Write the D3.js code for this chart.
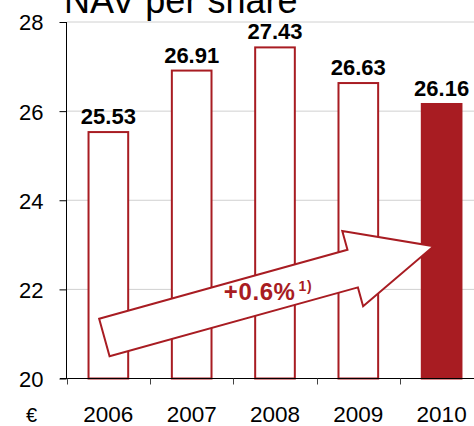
<!DOCTYPE html>
<html>
<head>
<meta charset="utf-8">
<script src="https://cdn.jsdelivr.net/npm/d3@7"></script>
<style>
  body { margin: 0; background: #fff; }
  svg { display: block; font-family: "Liberation Sans", Arial, sans-serif; }
</style>
</head>
<body>
<div id="chart"></div>
<script>
'use strict';

// Chart data
const years = ["2006", "2007", "2008", "2009", "2010"];
const navValues = [25.53, 26.91, 27.43, 26.63, 26.16];
const yTicks = [20, 22, 24, 26, 28];
const growthLabel = "+0.6%";
const growthNote = "1)";

const width = 474;
const height = 426;
const red = "#a81c22";

const svg = d3.select("#chart").append("svg")
    .attr("width", width)
    .attr("height", height);

// Scales: band axis runs past the right edge, like the original slide
const x = d3.scaleBand()
    .domain(years)
    .range([66.7, 483.3])
    .paddingInner(0.5)
    .paddingOuter(0.25);

const y = d3.scaleLinear()
    .domain([20, 28])
    .range([378.5, 22]);

// Title (cut off at the top)
svg.append("text")
    .attr("x", 64)
    .attr("y", 13)
    .attr("font-size", 36)
    .attr("fill", "#000")
    .text("NAV per share");

// Gridlines
svg.append("g")
  .selectAll("line")
  .data(yTicks.filter(d => d > 20))
  .join("line")
    .attr("x1", 67)
    .attr("x2", width)
    .attr("y1", d => y(d))
    .attr("y2", d => y(d))
    .attr("stroke", "#d0d0d0")
    .attr("stroke-width", 1);

// Y axis
const yAxis = svg.append("g")
    .attr("transform", "translate(66.5,0)")
    .call(d3.axisLeft(y).tickValues(yTicks).tickSize(7).tickPadding(16));
yAxis.select(".domain").attr("stroke", "#000").attr("d", `M0,${y(28)}V${y(20)}`);
yAxis.selectAll(".tick line").attr("stroke", "#000");
yAxis.selectAll(".tick text")
    .attr("font-size", 22)
    .attr("dy", "0.36em")
    .attr("font-family", "Liberation Sans, Arial, sans-serif")
    .attr("fill", "#000");

// Bars
svg.append("g")
  .selectAll("rect")
  .data(years)
  .join("rect")
    .attr("x", d => x(d) + 1)
    .attr("width", x.bandwidth() - 2)
    .attr("y", (d, i) => y(navValues[i]))
    .attr("height", (d, i) => y(20) - y(navValues[i]))
    .attr("fill", (d, i) => i === years.length - 1 ? red : "#fff")
    .attr("stroke", red)
    .attr("stroke-width", 2);

// X axis line
svg.append("line")
    .attr("x1", 60)
    .attr("x2", width)
    .attr("y1", y(20))
    .attr("y2", y(20))
    .attr("stroke", "#000")
    .attr("stroke-width", 1.2);

// X ticks at band boundaries
svg.append("g")
  .selectAll("line")
  .data(years)
  .join("line")
    .attr("x1", d => Math.round(x(d) - x.step() * x.paddingOuter()) + 0.5)
    .attr("x2", d => Math.round(x(d) - x.step() * x.paddingOuter()) + 0.5)
    .attr("y1", y(20))
    .attr("y2", y(20) + 6)
    .attr("stroke", "#444");

// Year labels
svg.append("g")
  .selectAll("text")
  .data(years)
  .join("text")
    .attr("x", d => x(d) + x.bandwidth() / 2)
    .attr("y", 422)
    .attr("text-anchor", "middle")
    .attr("font-size", 22.5)
    .text(d => d);

svg.append("text")
    .attr("x", 26)
    .attr("y", 422)
    .attr("font-size", 20)
    .text("€");

// Value labels
svg.append("g")
  .selectAll("text")
  .data(years)
  .join("text")
    .attr("x", d => x(d) + x.bandwidth() / 2)
    .attr("y", (d, i) => y(navValues[i]) - 8)
    .attr("text-anchor", "middle")
    .attr("font-size", 22)
    .attr("font-weight", "bold")
    .text((d, i) => navValues[i].toFixed(2));

// Growth arrow, anchored to the first and last bars
const tail = [x("2006") + x.bandwidth() / 2 - 4, y(20.92)];
const tip = [x("2010") + x.bandwidth() / 2 - 8, y(22.97)];
const ang = Math.atan2(tip[1] - tail[1], tip[0] - tail[0]);
const len = Math.hypot(tip[0] - tail[0], tip[1] - tail[1]);
const shaftW = 19.5, headW = 39, headL = 84;
const arrowPts = [
  [0, -shaftW], [len - headL, -shaftW], [len - headL, -headW],
  [len, 0], [len - headL, headW], [len - headL, shaftW], [0, shaftW]
];

svg.append("polygon")
    .attr("transform", `translate(${tail[0]},${tail[1]}) rotate(${ang * 180 / Math.PI})`)
    .attr("points", arrowPts.map(p => p.join(",")).join(" "))
    .attr("fill", "#fff")
    .attr("stroke", red)
    .attr("stroke-width", 2)
    .attr("stroke-linejoin", "miter");

// label sits level, in the middle of the shaft
const mid = (len - headL) / 2 + 41;
const lbl = svg.append("text")
    .attr("x", tail[0] + mid * Math.cos(ang))
    .attr("y", tail[1] + mid * Math.sin(ang) + 8)
    .attr("text-anchor", "middle")
    .attr("fill", red)
    .attr("font-weight", "bold")
    .attr("font-size", 24)
    .style("letter-spacing", "0.6px");
lbl.append("tspan").text(growthLabel);
lbl.append("tspan")
    .attr("font-size", 14)
    .attr("dx", 3)
    .attr("dy", -9)
    .text(growthNote);
</script>
</body>
</html>
